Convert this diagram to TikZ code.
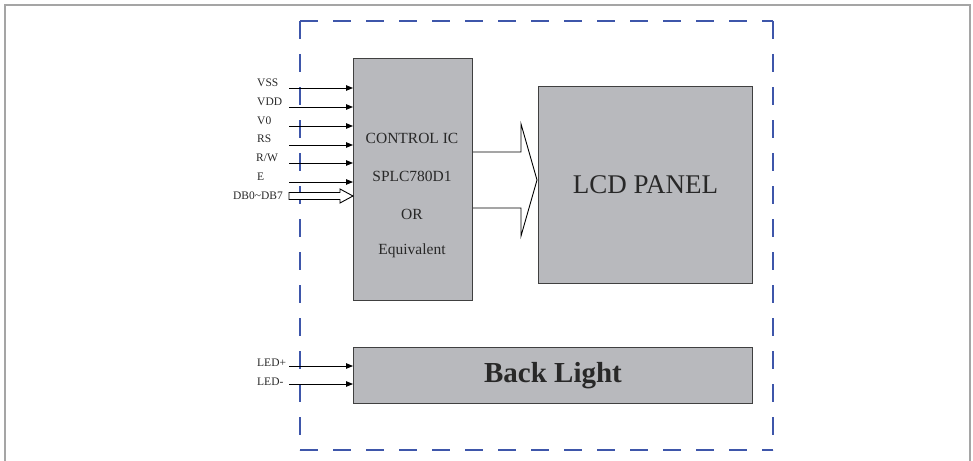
\documentclass[tikz,border=0pt]{standalone}
\usepackage{fontspec}
\setmainfont{Liberation Serif}
\usetikzlibrary{arrows.meta}
\definecolor{framegray}{RGB}{165,165,165}
\definecolor{dashblue}{RGB}{62,86,170}
\definecolor{boxgray}{RGB}{184,185,189}
\definecolor{textgray}{RGB}{40,40,40}
\begin{document}
\begin{tikzpicture}[x=1pt,y=-1pt,
  box/.style={draw=black!75, line width=1, fill=boxgray, inner sep=0, anchor=north west},
  sig/.style={draw=black, line width=0.9, -{Triangle[length=7,width=5.5]}},
  lbl/.style={font=\fontsize{11.5}{12}\selectfont, text=textgray, inner sep=0},
  ictxt/.style={font=\fontsize{15.5}{17}\selectfont, text=textgray, inner sep=0}]
\useasboundingbox (0,0) rectangle (973,460);
% outer frame
\draw[framegray, line width=2.2] (5,462) -- (5,5) -- (970,5) -- (970,462);
% dashed boundary
\draw[dashblue, line width=1.7, dash pattern=on 18 off 15] (300,21) -- (773,21);
\draw[dashblue, line width=1.7, dash pattern=on 18 off 15] (300,21) -- (300,450);
\draw[dashblue, line width=1.7, dash pattern=on 18 off 15] (773,21) -- (773,450);
\draw[dashblue, line width=1.7, dash pattern=on 18 off 15] (300,450) -- (773,450);
% boxes
\node[box, minimum width=119, minimum height=242] (ic) at (353,58) {};
\node[box, minimum width=214, minimum height=197] (lcd) at (538,86) {};
\node[box, minimum width=399, minimum height=56] (bl) at (353,347) {};
% box texts
\node[ictxt] (t1) at (412,138) {CONTROL IC};
\node[ictxt] (t2) at (412,176) {SPLC780D1};
\node[ictxt] (t3) at (412,214) {OR};
\node[ictxt] (t4) at (412,251) {Equivalent};
\node[font=\fontsize{27}{30}\selectfont, text=textgray, inner sep=0] (lcdt) at (lcd.center) {LCD PANEL};
\node[font=\fontsize{29}{32}\selectfont\bfseries, text=textgray, inner sep=0] (blt) at (bl.center) {Back Light};
% signal labels
\node[lbl, anchor=west] (lVSS) at (257,83) {VSS};
\node[lbl, anchor=west] (lVDD) at (257,102) {VDD};
\node[lbl, anchor=west] (lV0) at (257,121) {V0};
\node[lbl, anchor=west] (lRS) at (257,139) {RS};
\node[lbl, anchor=west] (lRW) at (256,158) {R/W};
\node[lbl, anchor=west] (lE) at (257,177) {E};
\node[lbl, anchor=east] (lDB) at (283,196) {DB0\textasciitilde DB7};
\node[lbl, anchor=west] (lLEDp) at (257,363) {LED+};
\node[lbl, anchor=west] (lLEDm) at (257,382) {LED-};
% line start points
\coordinate (sVSS) at (289,88);
\coordinate (sVDD) at (289,107);
\coordinate (sV0) at (289,126);
\coordinate (sRS) at (289,145);
\coordinate (sRW) at (289,163);
\coordinate (sE) at (289,182);
\coordinate (sLEDp) at (289,366);
\coordinate (sLEDm) at (289,384);
\foreach \s in {sVSS,sVDD,sV0,sRS,sRW,sE}{
  \draw[sig] (\s) -- (\s -| ic.west);
}
\foreach \s in {sLEDp,sLEDm}{
  \draw[sig] (\s) -- (\s -| bl.west);
}
% hollow bus arrow DB0~DB7
\coordinate (sDB) at (289,196);
\draw[black, line width=0.9, fill=white, line join=miter]
  (289,192.5) -- (340,192.5) -- (340,189) -- (sDB -| ic.west) -- (340,203) -- (340,199.5) -- (289,199.5) -- cycle;
% big hollow arrow IC -> LCD
\coordinate (a1) at (ic.east |- 0,152);
\coordinate (a2) at (ic.east |- 0,208);
\coordinate (tip) at (lcd.west |- 0,180);
\draw[black, line width=0.9, line join=miter]
  (a1) -- (521,152) -- (521,124) -- ([xshift=-1]tip) -- (521,236) -- (521,208) -- (a2);
\end{tikzpicture}
\end{document}
